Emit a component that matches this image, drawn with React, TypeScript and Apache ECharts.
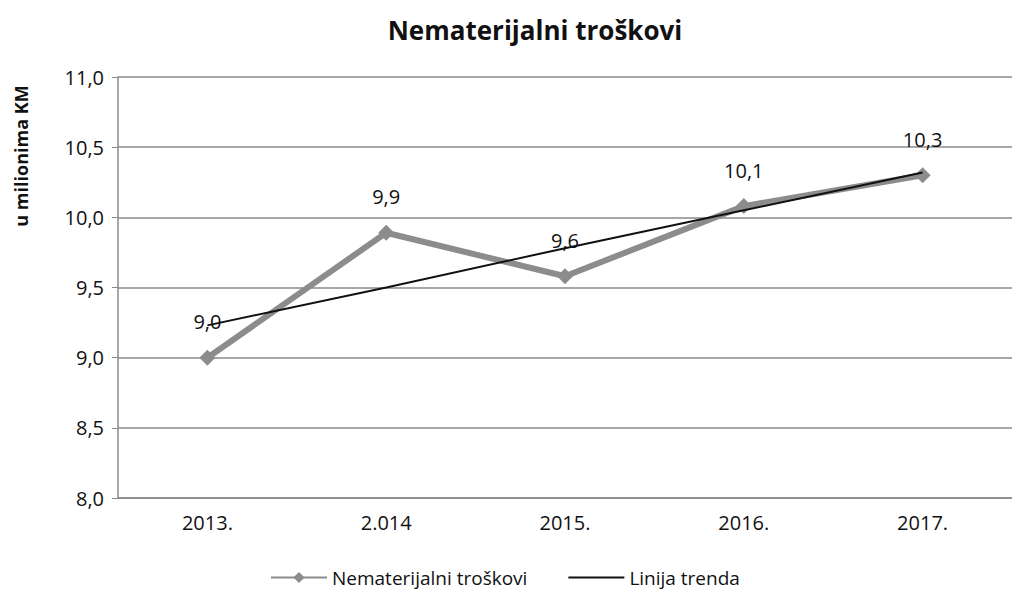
import React, { useEffect, useRef } from "react";
import * as echarts from "echarts";

const categories = ["2013.", "2.014", "2015.", "2016.", "2017."];
const costs = [9.0, 9.89, 9.58, 10.08, 10.3];
const trend = [9.23, 9.5, 9.78, 10.05, 10.32];
const yTicks = { min: 8, max: 11, interval: 0.5 };

const FONT = "'Open Sans', sans-serif";

export default function App() {
  const ref = useRef<HTMLDivElement>(null);
  useEffect(() => {
    if (!ref.current) return;
    const chart = echarts.init(ref.current, null, { renderer: "svg" });
    chart.setOption({
      animation: false,
      backgroundColor: "#ffffff",
      title: {
        text: "Nematerijalni troškovi",
        left: 522,
        top: 4,
        textAlign: "center",
        textStyle: { fontFamily: FONT, fontSize: 26, fontWeight: "bold", color: "#111" },
      },
      grid: { left: 110, top: 69, width: 925, height: 421 },
      legend: {
        top: 555,
        left: 257,
        itemGap: 40,
        itemWidth: 56,
        itemHeight: 14,
        textStyle: { fontFamily: FONT, fontSize: 19, color: "#111" },
        data: [
          { name: "Nematerijalni troškovi" },
          { name: "Linija trenda", itemStyle: { opacity: 0 } },
        ],
      },
      graphic: [
        {
          type: "text",
          x: 13,
          y: 148,
          rotation: Math.PI / 2,
          style: {
            text: "u milionima KM",
            fontFamily: FONT,
            fontSize: 18,
            fontWeight: "bold",
            fill: "#111",
            align: "center",
            verticalAlign: "middle",
          },
        },
      ],
      xAxis: {
        type: "category",
        data: categories,
        boundaryGap: true,
        axisLine: { lineStyle: { color: "#8a8a8a", width: 1.5 } },
        axisTick: { show: false },
        axisLabel: { fontFamily: FONT, fontSize: 20, color: "#111", margin: 14 },
      },
      yAxis: {
        type: "value",
        min: yTicks.min,
        max: yTicks.max,
        interval: yTicks.interval,
        axisLine: { show: true, lineStyle: { color: "#8a8a8a", width: 1.5 } },
        axisTick: { show: true, length: 6, lineStyle: { color: "#8a8a8a" } },
        axisLabel: {
          fontFamily: FONT,
          fontSize: 20,
          color: "#111",
          margin: 14,
          formatter: (v: number) => v.toFixed(1).replace(".", ","),
        },
        splitLine: { lineStyle: { color: "#8a8a8a", width: 1.5 } },
      },
      series: [
        {
          name: "Nematerijalni troškovi",
          type: "line",
          data: costs,
          symbol: "diamond",
          symbolSize: 16,
          lineStyle: { color: "#8c8c8c", width: 6 },
          itemStyle: { color: "#8c8c8c" },
          label: {
            show: true,
            position: "top",
            distance: 18,
            fontFamily: FONT,
            fontSize: 20,
            color: "#111",
            formatter: (p: any) => Number(p.value).toFixed(1).replace(".", ","),
          },
          z: 2,
        },
        {
          name: "Linija trenda",
          type: "line",
          data: trend,
          symbol: "none",
          lineStyle: { color: "#111", width: 2 },
          itemStyle: { color: "#111" },
          z: 3,
        },
      ],
    });
    return () => chart.dispose();
  }, []);
  return <div ref={ref} style={{ width: 1004, height: 585 }} />;
}
